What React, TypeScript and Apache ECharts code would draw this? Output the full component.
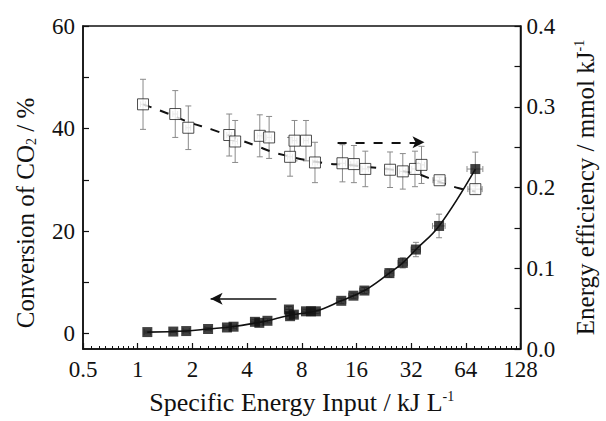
import React, { useEffect, useRef } from "react";
import * as echarts from "echarts";

// Conversion of CO2 (filled squares, left axis)
const convX = [1.13, 1.57, 1.85, 2.44, 3.1, 3.37, 4.42, 4.67, 5.18, 6.8, 6.9, 7.24, 8.44, 8.99, 9.57, 13.2, 15.4, 17.7, 24.3, 28.8, 34, 45.6, 72.2];
const convY = [0.3, 0.4, 0.5, 0.9, 1.2, 1.35, 2.3, 2.1, 2.5, 4.7, 3.4, 3.7, 4.35, 4.35, 4.35, 6.4, 7.4, 8.4, 11.8, 13.8, 16.4, 21.0, 32.1];
const convYErr = [0.2, 0.2, 0.2, 0.3, 0.3, 0.3, 0.4, 0.4, 0.4, 0.6, 0.6, 0.5, 0.4, 0.4, 0.4, 0.5, 0.5, 0.6, 0.8, 1.0, 1.4, 2.3, 3.3];
const convXErr = [0.04, 0.04, 0.04, 0.04, 0.04, 0.04, 0.05, 0.05, 0.05, 0.05, 0.05, 0.05, 0.05, 0.05, 0.05, 0.06, 0.06, 0.06, 0.06, 0.06, 0.06, 0.08, 0.1];
// Smooth guide line through conversion data
const convFitX = [1.13, 1.85, 2.44, 3.37, 4.67, 5.18, 6.9, 9.57, 13.2, 17.7, 24.3, 28.8, 34, 45.6, 72.2];
const convFitY = [0.3, 0.5, 0.9, 1.4, 2.2, 2.5, 3.6, 4.4, 6.4, 8.4, 11.8, 13.8, 16.4, 21.0, 32.1];

// Energy efficiency (open squares, right axis)
const effX = [1.07, 1.61, 1.9, 3.19, 3.44, 4.7, 5.29, 6.9, 7.3, 8.44, 9.46, 13.4, 15.5, 17.9, 24.5, 28.8, 33.6, 36.5, 45.9, 72.2];
const effY = [0.303, 0.291, 0.274, 0.265, 0.257, 0.264, 0.262, 0.238, 0.258, 0.258, 0.231, 0.23, 0.229, 0.223, 0.222, 0.22, 0.223, 0.228, 0.209, 0.198];
const effYErr = [0.031, 0.029, 0.027, 0.026, 0.026, 0.026, 0.026, 0.024, 0.025, 0.025, 0.025, 0.023, 0.023, 0.022, 0.022, 0.022, 0.022, 0.023, 0.004, 0.006];
const effXErr = [0.03, 0.03, 0.03, 0.03, 0.03, 0.03, 0.03, 0.03, 0.03, 0.03, 0.03, 0.04, 0.04, 0.04, 0.04, 0.04, 0.04, 0.04, 0.08, 0.09];
const effFitX = [1.07, 1.45, 1.96, 2.55, 4.44, 5.92, 10.7, 14.3, 33, 43, 58.8, 72.2];
const effFitY = [0.303, 0.292, 0.28, 0.272, 0.252, 0.242, 0.23, 0.228, 0.218, 0.209, 0.199, 0.195];

// Annotation arrows
const leftArrowX = [5.8, 2.52];
const leftArrowY = 6.8;
const rightArrowX = [12.6, 37.9];
const rightArrowY = 0.256;

// Axis ticks
const xTicks = [0.5, 1, 2, 4, 8, 16, 32, 64, 128];
const yLeftLabels = [0, 20, 40, 60];
const yLeftTicks = [0, 10, 20, 30, 40, 50, 60];

const FONT = "'Liberation Serif', 'DejaVu Serif', serif";

function errData(xs: number[], ys: number[], xe: number[], ye: number[]) {
  return xs.map((x, i) => [x, ys[i], x * (1 - xe[i]), x * (1 + xe[i]), ys[i] - ye[i], ys[i] + ye[i]]);
}

function renderErr(params: any, api: any) {
  const x = api.value(0), y = api.value(1);
  const xl = api.value(2), xh = api.value(3), yl = api.value(4), yh = api.value(5);
  const pL = api.coord([xl, y]);
  const pH = api.coord([xh, y]);
  const pB = api.coord([x, yl]);
  const pT = api.coord([x, yh]);
  const c = 3;
  const st = { stroke: "#8a8a8a", lineWidth: 1 };
  const ln = (x1: number, y1: number, x2: number, y2: number) => ({ type: "line", shape: { x1, y1, x2, y2 }, style: st });
  return {
    type: "group",
    children: [
      ln(pB[0], pB[1], pT[0], pT[1]),
      ln(pB[0] - c, pB[1], pB[0] + c, pB[1]),
      ln(pT[0] - c, pT[1], pT[0] + c, pT[1]),
      ln(pL[0], pL[1], pH[0], pH[1]),
      ln(pL[0], pL[1] - c, pL[0], pL[1] + c),
      ln(pH[0], pH[1] - c, pH[0], pH[1] + c),
    ],
  };
}

export default function App() {
  const ref = useRef<HTMLDivElement>(null);
  useEffect(() => {
    document.body.style.margin = "0";
    const chart = echarts.init(ref.current!, null, { renderer: "svg" });
    const labelStyle = { fontFamily: FONT, fontSize: 23, color: "#111" };
    const titleSize = 25;
    chart.setOption({
      animation: false,
      backgroundColor: "#fff",
      grid: { left: 83, right: 81, top: 26, bottom: 72, show: true, borderColor: "#111", borderWidth: 1.5, backgroundColor: "transparent" },
      graphic: [
        {
          type: "text",
          x: 25,
          y: 213,
          rotation: Math.PI / 2,
          style: {
            text: "Conversion of CO{sub|2} / %",
            fontFamily: FONT,
            fontSize: titleSize,
            fill: "#111",
            align: "center",
            verticalAlign: "middle",
            rich: { sub: { fontFamily: FONT, fontSize: 14, fill: "#111", verticalAlign: "bottom", padding: [12, 0, 0, 0] } },
          },
        },
      ],
      xAxis: {
        type: "log",
        logBase: 2,
        min: 0.5,
        max: 128,
        name: "Specific Energy Input / kJ L{sup|-1}",
        nameLocation: "middle",
        nameGap: 40,
        nameTextStyle: { fontFamily: FONT, fontSize: 26, color: "#111", rich: { sup: { fontFamily: FONT, fontSize: 14, verticalAlign: "top", padding: [0, 0, 12, 0] } } },
        axisLine: { show: true, onZero: false, lineStyle: { color: "#111", width: 1.5 } },
        axisTick: { show: true, inside: true, length: 6, lineStyle: { color: "#111", width: 1.2 } },
        minorTick: { show: true, splitNumber: 9, length: 3, lineStyle: { color: "#111", width: 1 } },
        axisLabel: { ...labelStyle, margin: 9, formatter: (v: number) => (xTicks.includes(v) ? String(v) : "") },
        splitLine: { show: false },
        minorSplitLine: { show: false },
      },
      yAxis: [
        {
          type: "value",
          min: -3,
          max: 60,
          position: "left",
          axisLine: { show: true, lineStyle: { color: "#111", width: 1.5 } },
          axisTick: { show: true, inside: true, length: 6, customValues: yLeftTicks, lineStyle: { color: "#111", width: 1.2 } },
          axisLabel: { ...labelStyle, margin: 8, customValues: yLeftLabels },
          splitLine: { show: false },
        },
        {
          type: "value",
          min: 0,
          max: 0.4,
          interval: 0.1,
          position: "right",
          name: "Energy efficiency / mmol kJ{sup|-1}",
          nameLocation: "middle",
          nameGap: 52,
          nameRotate: 90,
          nameTextStyle: { fontFamily: FONT, fontSize: titleSize, color: "#111", rich: { sup: { fontFamily: FONT, fontSize: 14, verticalAlign: "top", padding: [0, 0, 12, 0] } } },
          axisLine: { show: true, lineStyle: { color: "#111", width: 1.5 } },
          axisTick: { show: true, inside: true, length: 6, lineStyle: { color: "#111", width: 1.2 } },
          minorTick: { show: true, splitNumber: 2, length: 6, lineStyle: { color: "#111", width: 1.2 } },
          axisLabel: { ...labelStyle, margin: 6, padding: [0, 0, 4, 0], formatter: (v: number) => v.toFixed(1) },
          splitLine: { show: false },
          minorSplitLine: { show: false },
        },
      ],
      series: [
        {
          type: "custom",
          name: "convErr",
          yAxisIndex: 0,
          renderItem: renderErr,
          data: errData(convX, convY, convXErr, convYErr),
          encode: { x: 0, y: 1 },
          z: 1,
        },
        {
          type: "custom",
          name: "effErr",
          yAxisIndex: 1,
          renderItem: renderErr,
          data: errData(effX, effY, effXErr, effYErr),
          encode: { x: 0, y: 1 },
          z: 1,
        },
        {
          type: "line",
          yAxisIndex: 0,
          data: convFitX.map((x, i) => [x, convFitY[i]]),
          smooth: 0.4,
          showSymbol: false,
          lineStyle: { color: "#111", width: 1.6 },
          z: 2,
          markLine: {
            silent: true,
            symbol: ["none", "arrow"],
            symbolSize: [9, 12],
            label: { show: false },
            lineStyle: { color: "#111", width: 1.6, type: "solid" },
            data: [[{ coord: [leftArrowX[0], leftArrowY] }, { coord: [leftArrowX[1], leftArrowY] }]],
          },
        },
        {
          type: "line",
          yAxisIndex: 1,
          data: effFitX.map((x, i) => [x, effFitY[i]]),
          smooth: 0.4,
          showSymbol: false,
          lineStyle: { color: "#111", width: 2, type: [9, 9] },
          z: 2,
          markLine: {
            silent: true,
            symbol: ["none", "arrow"],
            symbolSize: [9, 12],
            label: { show: false },
            lineStyle: { color: "#111", width: 2, type: [9, 9] },
            data: [[{ coord: [rightArrowX[0], rightArrowY] }, { coord: [rightArrowX[1], rightArrowY] }]],
          },
        },
        {
          type: "scatter",
          yAxisIndex: 0,
          data: convX.map((x, i) => [x, convY[i]]),
          symbol: "rect",
          symbolSize: 10,
          itemStyle: { color: "#111" },
          z: 3,
        },
        {
          type: "scatter",
          yAxisIndex: 1,
          data: effX.map((x, i) => [x, effY[i]]),
          symbol: "rect",
          symbolSize: 11,
          itemStyle: { color: "#fff", borderColor: "#222", borderWidth: 1 },
          z: 3,
        },
      ],
    });
    return () => chart.dispose();
  }, []);
  return <div ref={ref} style={{ width: 606, height: 421 }} />;
}
